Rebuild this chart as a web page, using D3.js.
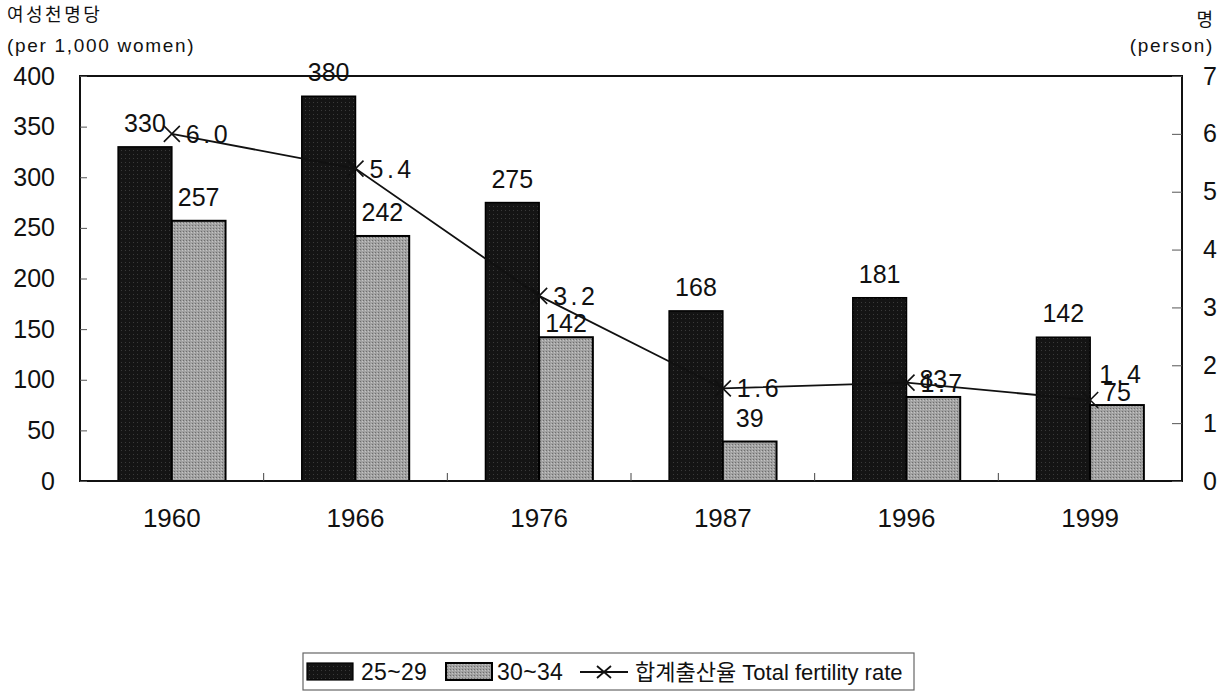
<!DOCTYPE html>
<html><head><meta charset="utf-8">
<script src="https://cdn.jsdelivr.net/npm/d3@7"></script>
<style>
html,body{margin:0;padding:0;background:#fff;}
svg{display:block;}
text{font-family:"Liberation Sans","Noto Sans CJK KR",Arial,sans-serif;fill:#111;}
</style></head>
<body>
<svg id="chart" width="1231" height="697"></svg>
<script>
const years = ["1960","1966","1976","1987","1996","1999"];
const age2529 = [330,380,275,168,181,142];
const age3034 = [257,242,142,39,83,75];
const tfr = [6.0,5.4,3.2,1.6,1.7,1.4];
const leftTicks = [0,50,100,150,200,250,300,350,400];
const rightTicks = [0,1,2,3,4,5,6,7];
const legendLabels = ["25~29","30~34","합계출산율 Total fertility rate"];

const svg = d3.select("#chart");
const L=80,R=1182,T=76,B=481;

const defs = svg.append("defs");
const pd = defs.append("pattern").attr("id","darkPat").attr("width",4).attr("height",4).attr("patternUnits","userSpaceOnUse");
pd.append("rect").attr("width",4).attr("height",4).attr("fill","#141414");
pd.append("rect").attr("x",1).attr("y",2).attr("width",1).attr("height",1).attr("fill","#3a3a3a");
const pg = defs.append("pattern").attr("id","grayPat").attr("width",3).attr("height",3).attr("patternUnits","userSpaceOnUse");
pg.append("rect").attr("width",3).attr("height",3).attr("fill","#a2a2a2");
pg.append("rect").attr("x",0).attr("y",0).attr("width",1).attr("height",1).attr("fill","#6e6e6e");
pg.append("rect").attr("x",2).attr("y",1).attr("width",1).attr("height",1).attr("fill","#c4c4c4");

const x0 = d3.scaleBand().domain(years).range([L,R]).paddingInner(0).paddingOuter(0);
const x1 = d3.scaleBand().domain(["a","b"]).range([0,x0.bandwidth()]).paddingInner(0).paddingOuter(0.71);
const yL = d3.scaleLinear().domain([0,400]).range([B,T]);
const yR = d3.scaleLinear().domain([0,7]).range([B,T]);

const NUMFS = 25;

// bars
const g = svg.append("g");
const grayGap = [15,15,5,15,9,4]; // label gap above gray bars (as in the source layout)
years.forEach((yr,i)=>{
  const gx = x0(yr);
  g.append("rect").attr("x",gx+x1("a")).attr("y",yL(age2529[i])).attr("width",x1.bandwidth()).attr("height",B-yL(age2529[i]))
    .attr("fill","url(#darkPat)").attr("stroke","#000").attr("stroke-width",1.5);
  g.append("rect").attr("x",gx+x1("b")).attr("y",yL(age3034[i])).attr("width",x1.bandwidth()).attr("height",B-yL(age3034[i]))
    .attr("fill","url(#grayPat)").attr("stroke","#000").attr("stroke-width",2);
  g.append("text").attr("x",gx+x1("a")+x1.bandwidth()/2).attr("y",yL(age2529[i])-15).attr("text-anchor","middle")
    .attr("font-size",NUMFS).text(age2529[i]);
  g.append("text").attr("x",gx+x1("b")+x1.bandwidth()/2).attr("y",yL(age3034[i])-grayGap[i]).attr("text-anchor","middle")
    .attr("font-size",NUMFS).text(age3034[i]);
});

// plot frame
svg.append("rect").attr("x",L).attr("y",T).attr("width",R-L).attr("height",B-T)
  .attr("fill","none").attr("stroke","#111").attr("stroke-width",2);

// axes
const axL = d3.axisLeft(yL).tickValues(leftTicks).tickSize(-7).tickPadding(25);
const gL = svg.append("g").attr("transform",`translate(${L},0)`).call(axL);
const axR = d3.axisRight(yR).tickValues(rightTicks).tickFormat(d3.format("d")).tickSize(-10).tickPadding(28);
const gR = svg.append("g").attr("transform",`translate(${R},0)`).call(axR);
[gL,gR].forEach(a=>{
  a.select(".domain").remove();
  a.selectAll(".tick line").attr("stroke","#555").attr("stroke-width",1);
  a.selectAll(".tick text").attr("font-size",NUMFS)
    .attr("font-family","Liberation Sans, Arial, sans-serif").attr("fill","#111");
});
gR.selectAll(".tick text").attr("text-anchor","middle");

const axB = d3.axisBottom(x0).tickSize(0).tickPadding(28);
const gB = svg.append("g").attr("transform",`translate(0,${B})`).call(axB);
gB.select(".domain").remove();
gB.selectAll(".tick text").attr("font-size",26)
  .attr("font-family","Liberation Sans, Arial, sans-serif").attr("fill","#111");
// category boundary ticks
svg.append("g").selectAll("line").data(years.slice(1)).join("line")
  .attr("x1",d=>x0(d)).attr("x2",d=>x0(d)).attr("y1",B).attr("y2",B-8)
  .attr("stroke","#444").attr("stroke-width",1);

// TFR line
const cx = d=>x0(d)+x0.bandwidth()/2;
const line = d3.line().x((d,i)=>cx(years[i])).y(d=>yR(d));
svg.append("path").datum(tfr).attr("d",line).attr("fill","none").attr("stroke","#111").attr("stroke-width",1.8);
const ms=8;
tfr.forEach((v,i)=>{
  const px=cx(years[i]), py=yR(v);
  svg.append("path").attr("d",`M${px-ms},${py-ms}L${px+ms},${py+ms}M${px-ms},${py+ms}L${px+ms},${py-ms}`)
    .attr("stroke","#111").attr("stroke-width",1.6);
  const last = i===tfr.length-1;
  svg.append("text").attr("x",px+(last?9:14)).attr("y",py+(last?-17:9))
    .attr("font-size",NUMFS).attr("letter-spacing",3.5).text(d3.format(".1f")(v));
});

// axis titles
svg.append("text").attr("x",7).attr("y",21).attr("font-size",18).attr("letter-spacing",2.5).attr("fill","#222").text("여성천명당");
svg.append("text").attr("x",7).attr("y",52).attr("font-size",19).attr("letter-spacing",1.7).text("(per 1,000 women)");
svg.append("text").attr("x",1213).attr("y",26).attr("text-anchor","end").attr("font-size",18).attr("fill","#222").text("명");
svg.append("text").attr("x",1214).attr("y",52).attr("text-anchor","end").attr("font-size",19).attr("letter-spacing",1.7).text("(person)");

// legend
const lg = svg.append("g");
lg.append("rect").attr("x",303).attr("y",653).attr("width",611).attr("height",37).attr("fill","#fff").attr("stroke","#666").attr("stroke-width",1.2);
lg.append("rect").attr("x",307).attr("y",663).attr("width",46).attr("height",17).attr("fill","url(#darkPat)").attr("stroke","#000").attr("stroke-width",1.2);
lg.append("text").attr("x",361).attr("y",680).attr("font-size",23).attr("letter-spacing",0.3).text(legendLabels[0]);
lg.append("rect").attr("x",446).attr("y",663).attr("width",46).attr("height",17).attr("fill","url(#grayPat)").attr("stroke","#000").attr("stroke-width",2);
lg.append("text").attr("x",497).attr("y",680).attr("font-size",23).attr("letter-spacing",0.3).text(legendLabels[1]);
lg.append("line").attr("x1",580).attr("x2",628).attr("y1",672).attr("y2",672).attr("stroke","#111").attr("stroke-width",1.8);
lg.append("path").attr("d",`M${604-7},${672-6}L${604+7},${672+6}M${604-7},${672+6}L${604+7},${672-6}`).attr("stroke","#111").attr("stroke-width",1.8);
lg.append("text").attr("x",635).attr("y",680).attr("font-size",22).text(legendLabels[2]);
</script>
</body></html>
